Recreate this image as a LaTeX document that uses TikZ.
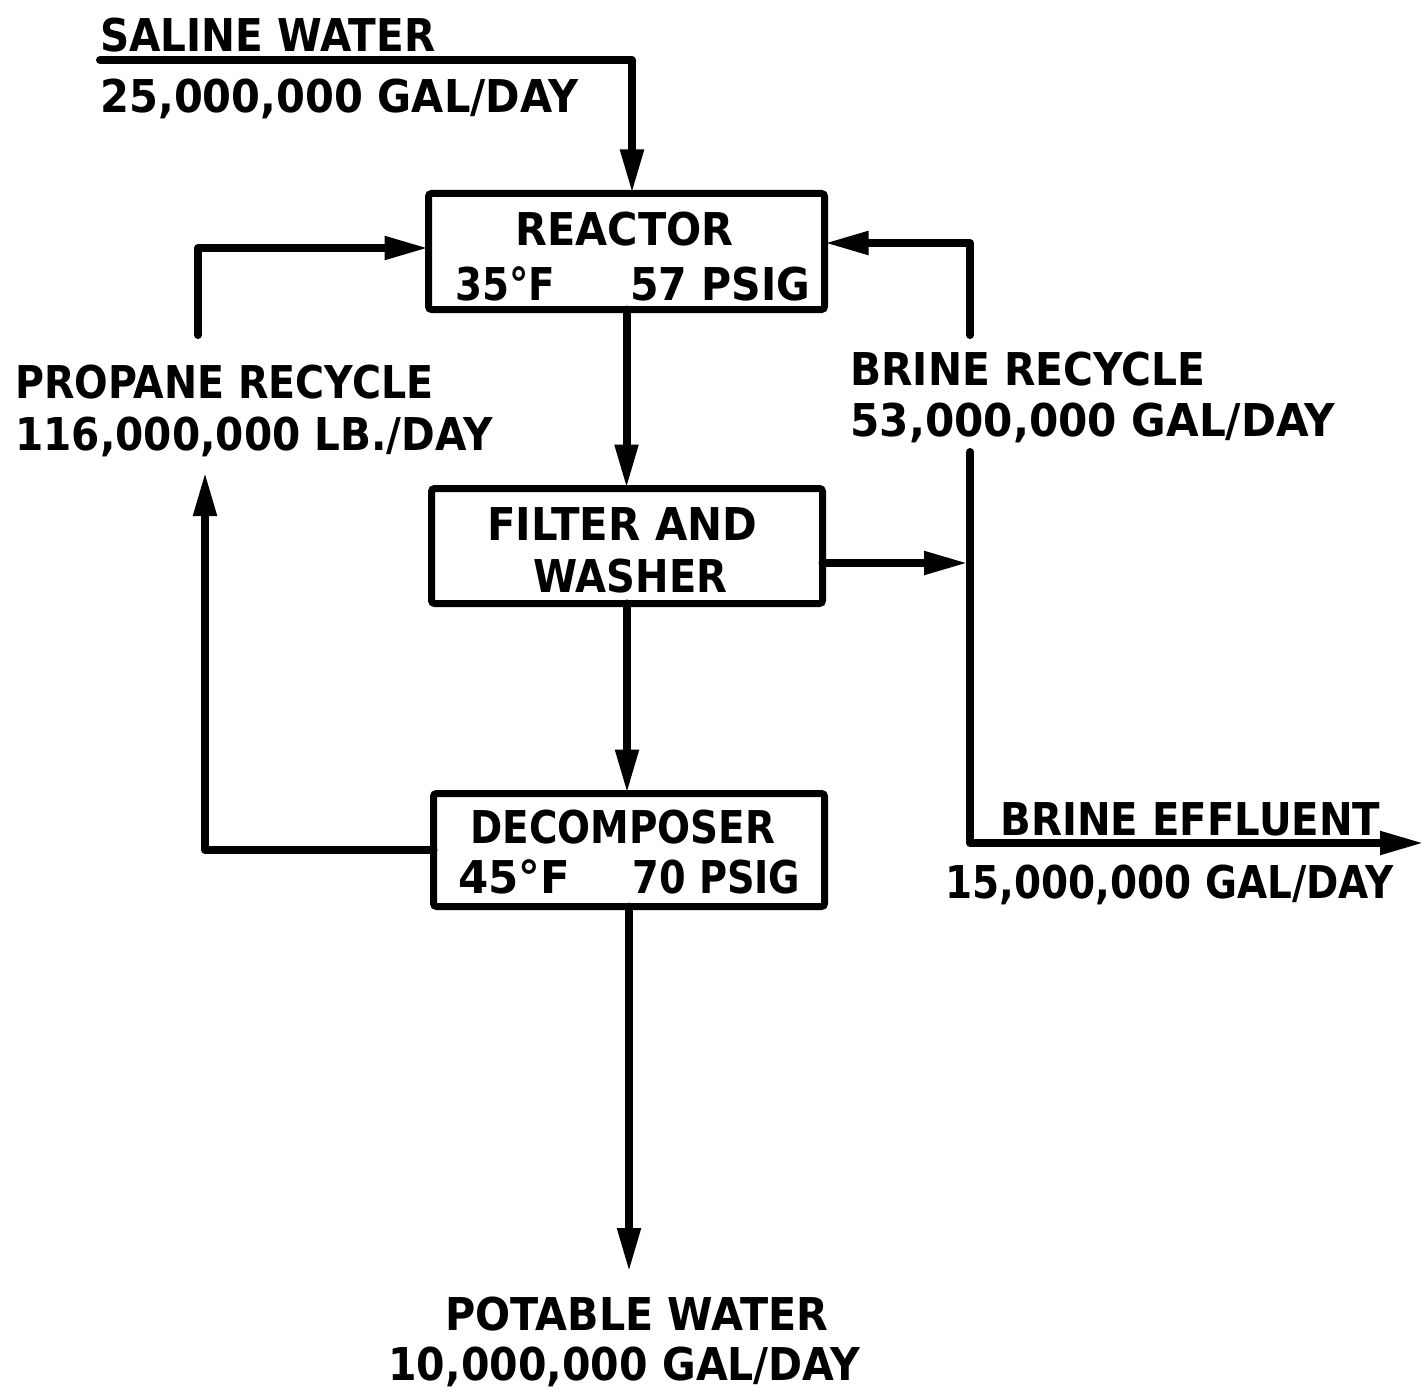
\documentclass[tikz,border=0pt]{standalone}
\usepackage{fontspec}
\setmainfont{DejaVu Sans}
\usetikzlibrary{arrows.meta,calc}
\newcommand\lbfont{\bfseries\fontsize{22.6}{26}\selectfont}
\newcommand\fitw[2]{\sbox0{#2}\pgfmathsetmacro\fitfac{#1*0.5/\the\wd0}\scalebox{\fitfac}[1]{\usebox0}}
\tikzset{
  lbl/.style={anchor=base west,inner sep=0pt,font=\lbfont},
  unitbox/.style={draw,line width=3.5pt,rounded corners=1.5pt,inner sep=0pt,outer sep=0pt},
  flow/.style={line width=4pt,line cap=round,line join=round,-{Triangle[length=22pt 0 0,width=11pt 0 0]}},
  pipe/.style={line width=4pt,line cap=round,line join=round}
}
\begin{document}
\begin{tikzpicture}[x=0.5pt,y=-0.5pt]
\useasboundingbox (0,0) rectangle (1427,1391);
% boxes
\node[unitbox,minimum width=198pt,minimum height=58pt] (reactor) at (626.5,251.5) {};
\node[unitbox,minimum width=195.5pt,minimum height=57.5pt] (filter) at (627,546) {};
\node[unitbox,minimum width=195.5pt,minimum height=56.5pt] (decomp) at (629,850) {};
% labels
\node[lbl] (t1) at (100,52) {\fitw{335}{SALINE WATER}};
\node[lbl] (t2) at (100,113) {\fitw{478}{25,000,000 GAL/DAY}};
\node[lbl] (t3) at (15,398) {\fitw{418}{PROPANE RECYCLE}};
\node[lbl] (t4) at (15,450) {\fitw{477}{116,000,000 LB./DAY}};
\node[lbl] (t5) at (850,385) {\fitw{355}{BRINE RECYCLE}};
\node[lbl] (t6) at (850,436) {\fitw{485}{53,000,000 GAL/DAY}};
\node[lbl] (t7) at (515,245) {\fitw{218}{REACTOR}};
\node[lbl] (t8) at (455,300) {\fitw{100}{35°F}};
\node[lbl] (t9) at (630,300) {\fitw{180}{57 PSIG}};
\node[lbl] (t10) at (487,540) {\fitw{270}{FILTER AND}};
\node[lbl] (t11) at (533,592) {\fitw{194}{WASHER}};
\node[lbl] (t12) at (470,843) {\fitw{305}{DECOMPOSER}};
\node[lbl] (t13) at (458,893) {\fitw{112}{45°F}};
\node[lbl] (t14) at (632,893) {\fitw{168}{70 PSIG}};
\node[lbl] (t15) at (1000,835) {\fitw{380}{BRINE EFFLUENT}};
\node[lbl] (t16) at (945,898) {\fitw{448}{15,000,000 GAL/DAY}};
\node[lbl] (t17) at (445,1330) {\fitw{383}{POTABLE WATER}};
\node[lbl] (t18) at (388,1380) {\fitw{472}{10,000,000 GAL/DAY}};
% free ends
\coordinate (swin) at (100,60);
\coordinate (swc) at (632,60);
\coordinate (pot) at (629,1272);
\coordinate (pl) at (205,472);
\coordinate (pu) at (198,335);
\coordinate (bu) at (970,335);
\coordinate (bj) at (968,563);
\coordinate (bl) at (970,452);
\coordinate (bout) at (1424,843);
% connectors
\draw[flow] (swin) -- (swc) -- (swc |- reactor.north);
\draw[flow] (reactor.south) -- (reactor.south |- filter.north);
\draw[flow] (filter.south) -- (filter.south |- decomp.north);
\draw[flow] (decomp.south) -- (pot);
\draw[flow] (decomp.west) -| (pl);
\draw[flow] (pu) |- ([yshift=1.75pt]reactor.west);
\draw[flow] (bu) |- ([yshift=4.25pt]reactor.east);
\draw[flow] (filter.east |- bj) -- (bj);
\draw[flow] (bl) |- (bout);
\end{tikzpicture}
\end{document}
